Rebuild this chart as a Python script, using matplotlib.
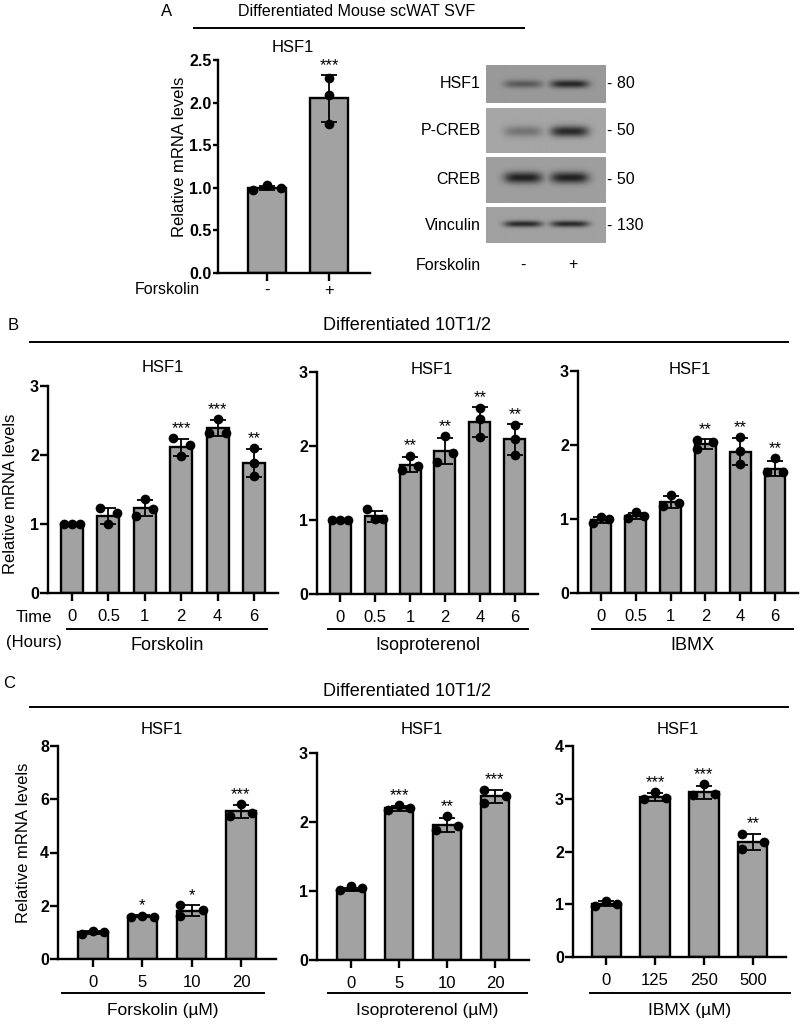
import numpy as np
import matplotlib
matplotlib.use('Agg')
import matplotlib.pyplot as plt
from matplotlib.lines import Line2D

plt.rcParams['font.family'] = ['Liberation Sans', 'DejaVu Sans']

# ---------------- data ----------------
# Panel A (Differentiated Mouse scWAT SVF)
a_labels = ['-', '+']
a_means = [1.00, 2.05]
a_pts = [[0.98, 1.03, 1.00], [2.29, 2.09, 1.75]]
a_stars = ['', '***']

# Western blot (panel A)
wb_labels = ['HSF1', 'P-CREB', 'CREB', 'Vinculin']
wb_mw = ['80', '50', '50', '130']
wb_lanes = ['-', '+']
# band darkness per lane (0 = none, 1 = black)
wb_lane1 = [0.50, 0.35, 0.95, 0.88]
wb_lane2 = [0.90, 0.88, 0.95, 0.88]

# Panel B (time course, hours)
b_times = ['0', '0.5', '1', '2', '4', '6']
b_forsk_means = [1.00, 1.12, 1.23, 2.11, 2.39, 1.88]
b_forsk_pts = [[1.00, 1.00, 1.00], [1.23, 1.00, 1.16], [1.12, 1.36, 1.22],
               [2.24, 1.99, 2.15], [2.32, 2.52, 2.32], [2.10, 1.88, 1.69]]
b_forsk_stars = ['', '', '', '***', '***', '**']

b_iso_means = [1.00, 1.05, 1.75, 1.93, 2.32, 2.09]
b_iso_pts = [[1.00, 1.00, 1.00], [1.15, 1.02, 1.02], [1.68, 1.87, 1.73],
             [1.79, 2.13, 1.90], [2.52, 2.36, 2.12], [2.29, 2.09, 1.88]]
b_iso_stars = ['', '', '**', '**', '**', '**']

b_ibmx_means = [0.99, 1.04, 1.23, 2.01, 1.91, 1.68]
b_ibmx_pts = [[0.95, 1.03, 1.00], [1.02, 1.09, 1.04], [1.18, 1.33, 1.21],
              [2.07, 1.94, 2.04], [2.11, 1.92, 1.74], [1.64, 1.82, 1.64]]
b_ibmx_stars = ['', '', '', '**', '**', '**']

# Panel C (dose response, uM)
c_forsk_doses = ['0', '5', '10', '20']
c_forsk_means = [1.00, 1.62, 1.82, 5.54]
c_forsk_pts = [[0.95, 1.04, 1.00], [1.57, 1.62, 1.57], [2.01, 1.62, 1.85], [5.37, 5.82, 5.47]]
c_forsk_stars = ['', '*', '*', '***']

c_iso_doses = ['0', '5', '10', '20']
c_iso_means = [1.02, 2.20, 1.96, 2.37]
c_iso_pts = [[1.02, 1.07, 1.04], [2.17, 2.24, 2.20], [1.88, 2.08, 1.94], [2.47, 2.28, 2.38]]
c_iso_stars = ['', '***', '**', '***']

c_ibmx_doses = ['0', '125', '250', '500']
c_ibmx_means = [1.01, 3.04, 3.12, 2.18]
c_ibmx_pts = [[0.97, 1.06, 1.00], [2.99, 3.13, 3.02], [3.07, 3.28, 3.09], [2.34, 2.04, 2.18]]
c_ibmx_stars = ['', '***', '***', '**']

# horizontal jitter pattern of replicate dots (layout, not data)
J3 = [-1, 0, 1]
J0 = [0, 0, 0]
JL = [-1, -1, 1]
a_jit = [J3, J0]
b_forsk_jit = [J3, J3, J3, J3, J3, J0]
b_iso_jit = [J3, J3, J3, J3, J0, J0]
b_ibmx_jit = [J3, J3, J3, JL, J0, J3]
c_forsk_jit = [J3, J3, JL, J3]
c_iso_jit = [J3, J3, J3, JL]
c_ibmx_jit = [J3, J3, J3, JL]

# ---------------- figure ----------------
W, H = 800, 1026
fig = plt.figure(figsize=(W / 100, H / 100), dpi=100)
BAR = '#a2a2a2'
FS = 12


def add_ax(x0, x1, y0, y1):
    return fig.add_axes([x0 / W, 1 - y1 / H, (x1 - x0) / W, (y1 - y0) / H])


def ftext(x, y, s, **kw):
    kw.setdefault('ha', 'center')
    kw.setdefault('va', 'center')
    kw.setdefault('fontsize', FS)
    fig.text(x / W, 1 - y / H, s, **kw)


def fline(x0, x1, y, lw=1.4):
    fig.add_artist(Line2D([x0 / W, x1 / W], [1 - y / H] * 2, color='black', lw=lw))


def bar_panel(ax, labels, means, pts, jit, stars, ymax, yticks, fmt,
              pad_l=0.65, jw=0.23, xpad=6.0, ytfs=11.5):
    n = len(labels)
    x = np.arange(n)
    sd = [np.std(p, ddof=1) for p in pts]
    ax.bar(x, means, width=0.6, color=BAR, edgecolor='black', linewidth=1.7, zorder=2)
    ax.errorbar(x, means, yerr=sd, fmt='none', ecolor='black', elinewidth=1.3,
                capsize=6, capthick=1.3, zorder=3)
    for xi, p, j in zip(x, pts, jit):
        ax.plot(xi + jw * np.array(j), p, 'o', color='black', ms=7, zorder=4,
                clip_on=False, markeredgewidth=0)
    for xi, m, s, p, st in zip(x, means, sd, pts, stars):
        if st:
            top = max(m + s, max(p))
            ax.annotate(st, (xi, top), xytext=(0, 1.5), textcoords='offset points',
                        ha='center', va='bottom', fontsize=12)
    ax.set_xlim(-pad_l, n - 1 + pad_l)
    ax.set_ylim(0, ymax)
    ax.set_xticks(x)
    ax.set_xticklabels(labels, fontsize=FS)
    ax.set_yticks(yticks)
    ax.set_yticklabels([fmt.format(v) for v in yticks], fontsize=ytfs, fontweight='bold')
    for s in ['top', 'right']:
        ax.spines[s].set_visible(False)
    for s in ['left', 'bottom']:
        ax.spines[s].set_linewidth(1.7)
    ax.tick_params(axis='both', direction='out', length=5.5, width=1.7)
    ax.tick_params(axis='x', pad=xpad)
    ax.tick_params(axis='y', pad=1)
    ax.patch.set_alpha(0)
    return ax


# ---- Panel A ----
ftext(167, 11, 'A', fontsize=FS)
ftext(357, 11, 'Differentiated Mouse scWAT SVF', fontsize=11.5)
fline(194, 524, 28)
axA = add_ax(218, 370, 60, 273)
bar_panel(axA, a_labels, a_means, a_pts, a_jit, a_stars, 2.5,
          [0, 0.5, 1.0, 1.5, 2.0, 2.5], '{:.1f}', pad_l=0.79, xpad=1.5)
axA.tick_params(axis='y', length=3.5)
axA.set_xlim(-0.79, 1.66)
ftext(293, 47, 'HSF1')
ftext(180, 157, 'Relative mRNA levels', rotation=90)
ftext(200, 290, 'Forskolin', ha='right', fontsize=11.5)

# Western blot
boxes = [(65, 103), (108, 153), (157, 203), (207, 243)]
bgs = [0.60, 0.65, 0.62, 0.63]
bx0, bx1 = 486, 605
lane_x = [523, 569]
band_sy = [4.0, 5.5, 5.5, 3.2]
band_yc = [0.50, 0.52, 0.46, 0.47]
for i, (y0, y1) in enumerate(boxes):
    ax = add_ax(bx0, bx1, y0, y1)
    w, h = bx1 - bx0, y1 - y0
    xx, yy = np.meshgrid(np.arange(w) + 0.5, np.arange(h) + 0.5)
    dark = np.zeros((h, w))
    yc = band_yc[i] * h
    for lx, d in zip(lane_x, [wb_lane1[i], wb_lane2[i]]):
        cx = lx - bx0
        prof_x = np.exp(-np.abs((xx - cx) / 19.0) ** 4)
        prof_y = np.exp(-((yy - yc) / band_sy[i]) ** 2)
        dark = np.maximum(dark, d * prof_x * prof_y)
    img = bgs[i] * (1 - dark) + 0.1 * dark
    ax.imshow(img, cmap='gray', vmin=0, vmax=1, aspect='auto',
              extent=[0, w, h, 0], interpolation='bilinear')
    ax.set_xticks([])
    ax.set_yticks([])
    for s in ax.spines.values():
        s.set_visible(False)
    yc_px = (y0 + y1) / 2
    ftext(481, yc_px, wb_labels[i], ha='right', fontsize=11.5)
    ftext(607, yc_px, '- ' + wb_mw[i], ha='left', fontsize=11.5)
ftext(481, 265, 'Forskolin', ha='right', fontsize=11.5)
for lx, lab in zip([523, 573], wb_lanes):
    ftext(lx, 265, lab, fontsize=11.5)

# ---- Panel B ----
ftext(13, 325, 'B', fontsize=FS)
ftext(407, 325, 'Differentiated 10T1/2', fontsize=13)
fline(30, 788, 342)
axB1 = add_ax(48, 278, 386, 593)
bar_panel(axB1, b_times, b_forsk_means, b_forsk_pts, b_forsk_jit, b_forsk_stars,
          3, [0, 1, 2, 3], '{:d}', pad_l=0.66)
axB2 = add_ax(317, 538, 372, 594)
bar_panel(axB2, b_times, b_iso_means, b_iso_pts, b_iso_jit, b_iso_stars,
          3, [0, 1, 2, 3], '{:d}', pad_l=0.66)
axB3 = add_ax(578, 798, 371, 593)
bar_panel(axB3, b_times, b_ibmx_means, b_ibmx_pts, b_ibmx_jit, b_ibmx_stars,
          3, [0, 1, 2, 3], '{:d}', pad_l=0.66)
ftext(163, 368, 'HSF1')
ftext(432, 370, 'HSF1')
ftext(690, 370, 'HSF1')
ftext(11, 494, 'Relative mRNA levels', rotation=90)
ftext(34, 617, 'Time')
ftext(34, 643, '(Hours)')
for (x0, x1, lab) in [(67, 267, 'Forskolin'), (328, 528, 'Isoproterenol'), (592, 793, 'IBMX')]:
    fline(x0, x1, 629)
    ftext((x0 + x1) / 2, 645, lab, fontsize=13)

# ---- Panel C ----
ftext(9, 684, 'C', fontsize=FS)
ftext(407, 692, 'Differentiated 10T1/2', fontsize=13)
fline(30, 788, 707)
axC1 = add_ax(58, 276, 746, 959)
bar_panel(axC1, c_forsk_doses, c_forsk_means, c_forsk_pts, c_forsk_jit, c_forsk_stars,
          8, [0, 2, 4, 6, 8], '{:d}', pad_l=0.71)
axC2 = add_ax(317, 529, 753, 960)
bar_panel(axC2, c_iso_doses, c_iso_means, c_iso_pts, c_iso_jit, c_iso_stars,
          3, [0, 1, 2, 3], '{:d}', pad_l=0.71)
axC3 = add_ax(573, 786, 746, 957)
bar_panel(axC3, c_ibmx_doses, c_ibmx_means, c_ibmx_pts, c_ibmx_jit, c_ibmx_stars,
          4, [0, 1, 2, 3, 4], '{:d}', pad_l=0.68)
ftext(162, 730, 'HSF1')
ftext(422, 730, 'HSF1')
ftext(678, 730, 'HSF1')
ftext(24, 843, 'Relative mRNA levels', rotation=90)
for (x0, x1, lab) in [(62, 264, 'Forskolin (µM)'), (328, 527, 'Isoproterenol (µM)'),
                      (590, 790, 'IBMX (µM)')]:
    fline(x0, x1, 993)
    ftext((x0 + x1) / 2, 1011, lab, fontsize=12.5)

fig.savefig('out.png', dpi=100)
